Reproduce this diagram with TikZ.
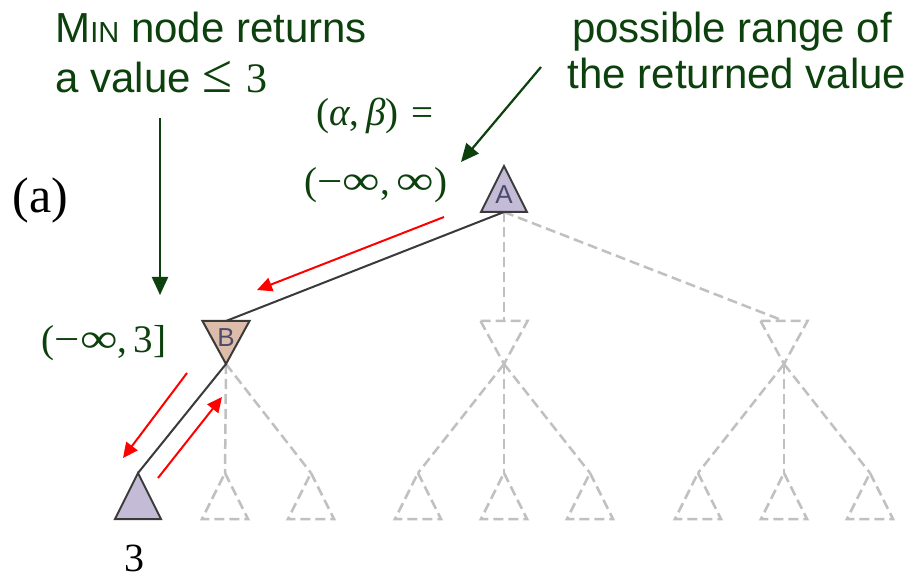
\RequirePackage{fix-cm}
\documentclass[tikz,border=0pt]{standalone}
\usepackage[no-math]{fontspec}
\setmainfont{Liberation Serif}
\newfontfamily\arialfont{Liberation Sans}
\newfontfamily\mathfont{Liberation Serif}
\usetikzlibrary{arrows.meta}
\definecolor{dkgreen}{RGB}{12,64,12}
\definecolor{edgegray}{RGB}{58,58,58}
\definecolor{ghostgray}{RGB}{192,192,192}
\definecolor{maxfill}{RGB}{196,188,214}
\definecolor{minfill}{RGB}{222,188,170}
\definecolor{labcol}{RGB}{75,75,110}
\newcommand{\wideinf}{\scalebox{1.35}[1.05]{∞}}
\newcommand{\wideminus}{\scalebox{1.15}[1]{−}}
\tikzset{
  gtxt/.style={text=dkgreen, font=\arialfont\fontsize{21pt}{25pt}\selectfont, inner sep=0pt},
  mtxt/.style={text=dkgreen, font=\mathfont\fontsize{19.5pt}{23pt}\selectfont, inner sep=0pt},
  tlab/.style={text=labcol, font=\arialfont\fontsize{13pt}{15pt}\selectfont, inner sep=0pt},
  solidtri/.style={draw=edgegray, line width=1pt, line join=miter},
  ghosttri/.style={draw=ghostgray, line width=1.25pt, dash pattern=on 5pt off 2.5pt},
  edgeline/.style={draw=edgegray, line width=1pt},
  ghostline/.style={draw=ghostgray, line width=1.25pt, dash pattern=on 5pt off 2.5pt},
  redarr/.style={draw=red, line width=1pt, -{Triangle[length=7.5pt,width=7pt]}},
  grnarr/.style={draw=dkgreen, line width=1.1pt, -{Triangle[length=9pt,width=8pt]}},
  maxtri/.pic={
    \coordinate (-top) at (0,0);
    \coordinate (-bot) at (0,46);
    \path[pic actions] (0,0) -- (23,46) -- (-23,46) -- cycle;
  },
  mintri/.pic={
    \coordinate (-top) at (0,0);
    \coordinate (-bot) at (0,43);
    \path[pic actions] (-23.5,0) -- (23.5,0) -- (0,43) -- cycle;
  }
}
\begin{document}
\begin{tikzpicture}[x=0.5pt,y=-0.5pt]
\useasboundingbox[fill=white] (0,0) rectangle (916,577);

% node positions (pics define -top and -bot coordinates)
\coordinate (Apos) at (504,166);
\coordinate (Bpos) at (226,321);
\coordinate (Cpos) at (504,321);
\coordinate (Dpos) at (784,321);

\path (Apos) pic[draw=none] (A) {maxtri};
\path (Bpos) pic[draw=none] (B) {mintri};
\path (Cpos) pic[draw=none] (C) {mintri};
\path (Dpos) pic[draw=none] (D) {mintri};
\foreach \n/\x in {L1/138,L2/225,L3/311,L4/418,L5/504,L6/590,L7/698,L8/784,L9/870}{
  \path (\x,473) pic[draw=none] (\n) {maxtri};
}

% edges (drawn first so triangles sit on top)
\draw[ghostline] (A-bot) -- (C-top);
\draw[ghostline] (A-bot) -- (D-top);
\draw[ghostline] (B-bot) -- (L2-top);
\draw[ghostline] (B-bot) -- (L3-top);
\draw[ghostline] (C-bot) -- (L4-top);
\draw[ghostline] (C-bot) -- (L5-top);
\draw[ghostline] (C-bot) -- (L6-top);
\draw[ghostline] (D-bot) -- (L7-top);
\draw[ghostline] (D-bot) -- (L8-top);
\draw[ghostline] (D-bot) -- (L9-top);
\draw[edgeline] (A-bot) -- (B-top);
\draw[edgeline] (B-bot) -- (L1-top);

% triangles
\path (Apos) pic[solidtri, fill=maxfill] {maxtri};
\path (Bpos) pic[solidtri, fill=minfill] {mintri};
\path (138,473) pic[solidtri, fill=maxfill] {maxtri};
\path (Cpos) pic[ghosttri] {mintri};
\path (Dpos) pic[ghosttri] {mintri};
\foreach \x in {225,311,418,504,590,698,784,870}{
  \path (\x,473) pic[ghosttri] {maxtri};
}

% triangle labels
\node[tlab, anchor=base] (labA) at (504,204) {A};
\node[tlab, anchor=base] (labB) at (226,347) {B};
\node[anchor=base, inner sep=0pt, font=\fontsize{20pt}{24pt}\selectfont] (val3) at (134,571) {3};
\node[anchor=base west, inner sep=0pt, font=\fontsize{25pt}{29pt}\selectfont] (tag) at (12,213) {(a)};

% green texts
\node[gtxt, anchor=base west] (min1) at (55,43) {M{\fontsize{14.5pt}{17pt}\selectfont IN} node returns};
\node[gtxt, anchor=base west] (min2) at (55,93) {a value {\mathfont\scalebox{1.3}{≤}\,\,3}};
\node[gtxt, anchor=base] (pr1) at (732,43) {possible range of};
\node[gtxt, anchor=base] (pr2) at (737,89) {the returned value};
\node[mtxt, anchor=base] (ab1) at (375,126) {(\textit{α},\,\textit{β})\,\,=};
\node[mtxt, anchor=base] (ab2) at (376,195) {(\wideminus\wideinf,\,\wideinf)};
\node[mtxt, anchor=base] (ab3) at (104,352) {(\wideminus\wideinf,\,3]};

% red arrows
\coordinate (r1s) at (444,217); \coordinate (r1e) at (257,290);
\coordinate (r2s) at (187,373); \coordinate (r2e) at (123,458);
\coordinate (r3s) at (158,478); \coordinate (r3e) at (222,397);
\draw[redarr] (r1s) -- (r1e);
\draw[redarr] (r2s) -- (r2e);
\draw[redarr] (r3s) -- (r3e);

% green arrows
\coordinate (g1s) at (541,67); \coordinate (g1e) at (461,162);
\coordinate (g2s) at (160,118); \coordinate (g2e) at (160,295);
\draw[grnarr] (g1s) -- (g1e);
\draw[grnarr] (g2s) -- (g2e);
\end{tikzpicture}
\end{document}
